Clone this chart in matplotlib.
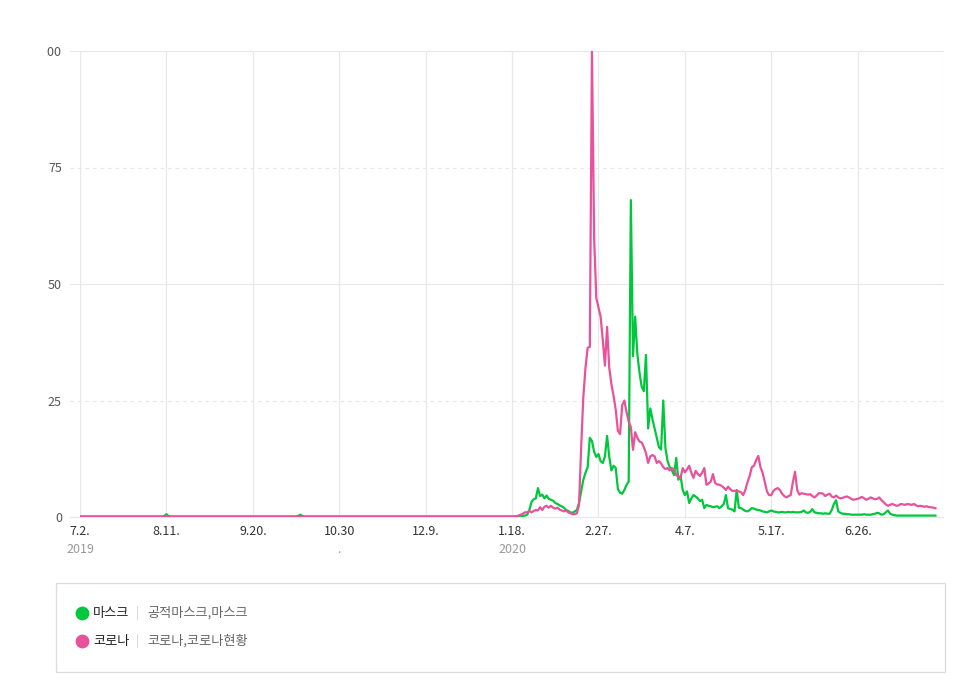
import numpy as np
import pandas as pd
import matplotlib
matplotlib.use("Agg")
import matplotlib.pyplot as plt
import matplotlib.dates as mdates
from matplotlib.patches import Rectangle
from matplotlib.transforms import Bbox, TransformedBbox

plt.rcParams['font.family'] = ['Noto Sans CJK KR', 'DejaVu Sans']

# daily search index, 2019-07-02 .. 2020-01-17 (flat period)
mask_early = [
    0.1, 0.1, 0.1, 0.1, 0.1, 0.1, 0.1, 0.1, 0.1, 0.1, 0.1, 0.1, 0.1, 0.1, 0.1, 0.1, 0.1, 0.1, 0.1, 0.1,
    0.1, 0.1, 0.1, 0.1, 0.1, 0.1, 0.1, 0.1, 0.1, 0.1, 0.1, 0.1, 0.1, 0.1, 0.1, 0.1, 0.1, 0.1, 0.1, 0.2,
    0.6, 0.2, 0.1, 0.1, 0.1, 0.1, 0.1, 0.1, 0.1, 0.1, 0.1, 0.1, 0.1, 0.1, 0.1, 0.1, 0.1, 0.1, 0.1, 0.1,
    0.1, 0.1, 0.1, 0.1, 0.1, 0.1, 0.1, 0.1, 0.1, 0.1, 0.1, 0.1, 0.1, 0.1, 0.1, 0.1, 0.1, 0.1, 0.1, 0.1,
    0.1, 0.1, 0.1, 0.1, 0.1, 0.1, 0.1, 0.1, 0.1, 0.1, 0.1, 0.1, 0.1, 0.1, 0.1, 0.1, 0.1, 0.1, 0.1, 0.1,
    0.1, 0.2, 0.5, 0.2, 0.1, 0.1, 0.1, 0.1, 0.1, 0.1, 0.1, 0.1, 0.1, 0.1, 0.1, 0.1, 0.1, 0.1, 0.1, 0.1,
    0.1, 0.1, 0.1, 0.1, 0.1, 0.1, 0.1, 0.1, 0.1, 0.1, 0.1, 0.1, 0.1, 0.1, 0.1, 0.1, 0.1, 0.1, 0.1, 0.1,
    0.1, 0.1, 0.1, 0.1, 0.1, 0.1, 0.1, 0.1, 0.1, 0.1, 0.1, 0.1, 0.1, 0.1, 0.1, 0.1, 0.1, 0.1, 0.1, 0.1,
    0.1, 0.1, 0.1, 0.1, 0.1, 0.1, 0.1, 0.1, 0.1, 0.1, 0.1, 0.1, 0.1, 0.1, 0.1, 0.1, 0.1, 0.1, 0.1, 0.1,
    0.1, 0.1, 0.1, 0.1, 0.1, 0.1, 0.1, 0.1, 0.1, 0.1, 0.1, 0.1, 0.1, 0.1, 0.1, 0.1, 0.1, 0.1, 0.1, 0.1,
]
corona_early = [
    0.1, 0.1, 0.1, 0.1, 0.1, 0.1, 0.1, 0.1, 0.1, 0.1, 0.1, 0.1, 0.1, 0.1, 0.1, 0.1, 0.1, 0.1, 0.1, 0.1,
    0.1, 0.1, 0.1, 0.1, 0.1, 0.1, 0.1, 0.1, 0.1, 0.1, 0.1, 0.1, 0.1, 0.1, 0.1, 0.1, 0.1, 0.1, 0.1, 0.1,
    0.1, 0.1, 0.1, 0.1, 0.1, 0.1, 0.1, 0.1, 0.1, 0.1, 0.1, 0.1, 0.1, 0.1, 0.1, 0.1, 0.1, 0.1, 0.1, 0.1,
    0.1, 0.1, 0.1, 0.1, 0.1, 0.1, 0.1, 0.1, 0.1, 0.1, 0.1, 0.1, 0.1, 0.1, 0.1, 0.1, 0.1, 0.1, 0.1, 0.1,
    0.1, 0.1, 0.1, 0.1, 0.1, 0.1, 0.1, 0.1, 0.1, 0.1, 0.1, 0.1, 0.1, 0.1, 0.1, 0.1, 0.1, 0.1, 0.1, 0.1,
    0.1, 0.1, 0.1, 0.1, 0.1, 0.1, 0.1, 0.1, 0.1, 0.1, 0.1, 0.1, 0.1, 0.1, 0.1, 0.1, 0.1, 0.1, 0.1, 0.1,
    0.1, 0.1, 0.1, 0.1, 0.1, 0.1, 0.1, 0.1, 0.1, 0.1, 0.1, 0.1, 0.1, 0.1, 0.1, 0.1, 0.1, 0.1, 0.1, 0.1,
    0.1, 0.1, 0.1, 0.1, 0.1, 0.1, 0.1, 0.1, 0.1, 0.1, 0.1, 0.1, 0.1, 0.1, 0.1, 0.1, 0.1, 0.1, 0.1, 0.1,
    0.1, 0.1, 0.1, 0.1, 0.1, 0.1, 0.1, 0.1, 0.1, 0.1, 0.1, 0.1, 0.1, 0.1, 0.1, 0.1, 0.1, 0.1, 0.1, 0.1,
    0.1, 0.1, 0.1, 0.1, 0.1, 0.1, 0.1, 0.1, 0.1, 0.1, 0.1, 0.1, 0.1, 0.1, 0.1, 0.1, 0.1, 0.1, 0.1, 0.1,
]

# daily search index, 2020-01-18 .. 2020-08-01
mask_late = [
    0.1, 0.1, 0.1, 0.1, 0.1, 0.2, 0.3, 0.5, 1.5, 3.2,
    3.8, 4.0, 6.2, 4.5, 4.8, 4.0, 4.6, 3.9, 3.7, 3.5,
    3.0, 2.8, 2.5, 2.3, 2.0, 1.5, 1.3, 1.0, 0.9, 1.2,
    1.5, 3.0, 5.5, 8.0, 9.5, 10.7, 17.0, 16.3, 14.0, 12.9,
    13.5, 12.0, 11.6, 13.0, 17.4, 12.9, 10.0, 11.0, 10.5, 6.0,
    5.2, 5.0, 5.8, 6.9, 7.6, 68.0, 34.5, 43.0, 35.0, 31.0,
    28.0, 27.0, 34.8, 19.0, 23.3, 21.0, 19.0, 17.0, 15.0, 14.5,
    25.0, 14.8, 12.0, 10.7, 10.0, 9.0, 12.7, 8.0, 8.8, 5.8,
    4.7, 5.5, 3.0, 4.0, 4.7, 4.4, 4.0, 3.4, 3.7, 1.9,
    2.6, 2.4, 2.3, 2.1, 2.2, 2.3, 1.9, 2.3, 2.8, 4.7,
    1.9, 1.7, 1.6, 1.2, 5.8, 2.0, 1.9, 1.6, 1.3, 1.2,
    1.5, 1.9, 1.8, 1.6, 1.5, 1.4, 1.2, 1.1, 1.0, 1.2,
    1.4, 1.2, 1.1, 1.0, 1.0, 1.1, 1.0, 1.0, 1.1, 1.0,
    1.1, 1.0, 1.0, 1.0, 1.1, 1.4, 1.0, 0.9, 1.1, 1.7,
    1.0, 0.9, 0.8, 0.8, 0.7, 0.8, 0.7, 0.7, 1.5, 2.8,
    3.6, 1.2, 0.9, 0.7, 0.7, 0.6, 0.6, 0.5, 0.5, 0.5,
    0.5, 0.5, 0.5, 0.6, 0.5, 0.5, 0.5, 0.6, 0.7, 0.9,
    0.8, 0.5, 0.6, 1.0, 1.4, 0.7, 0.5, 0.4, 0.3, 0.3,
    0.3, 0.3, 0.3, 0.3, 0.3, 0.3, 0.3, 0.3, 0.3, 0.3,
    0.3, 0.3, 0.3, 0.3, 0.3, 0.3, 0.3,
]
corona_late = [
    0.1, 0.1, 0.2, 0.3, 0.5, 0.7, 1.0, 1.0, 1.3, 1.0,
    1.3, 1.5, 1.4, 2.1, 1.5, 2.2, 2.4, 2.0, 2.4, 2.0,
    1.8, 2.0, 1.6, 1.4, 1.2, 1.4, 1.0, 0.8, 0.6, 0.6,
    0.8, 2.5, 15.0, 25.8, 32.0, 36.3, 36.5, 100.0, 60.0, 47.0,
    45.0, 43.0, 38.0, 32.5, 40.8, 32.0, 28.5, 26.0, 23.0, 18.5,
    17.8, 24.0, 25.0, 22.5, 20.5, 19.3, 14.4, 18.2, 17.0, 16.2,
    16.0, 15.0, 13.7, 11.6, 13.0, 13.3, 13.0, 11.6, 12.0, 11.5,
    10.7, 10.3, 10.5, 10.0, 10.5, 10.2, 9.0, 8.6, 8.4, 10.5,
    9.6, 10.2, 11.0, 9.5, 8.4, 9.9, 9.2, 8.8, 9.5, 10.5,
    6.9, 7.2, 7.6, 9.2, 7.3, 7.0, 6.9, 6.7, 6.3, 5.8,
    6.5, 6.0, 5.6, 5.6, 5.6, 5.5, 5.3, 4.7, 5.8, 7.5,
    8.8, 10.7, 11.0, 12.2, 13.1, 10.7, 9.5, 7.5, 5.5, 4.7,
    4.7, 5.6, 6.0, 6.2, 5.8, 5.0, 4.5, 4.2, 4.5, 4.7,
    7.5, 9.7, 5.8, 4.8, 5.1, 5.0, 4.9, 4.8, 4.9, 4.5,
    4.2, 4.6, 5.1, 5.1, 5.0, 4.5, 4.8, 5.0, 4.4, 4.2,
    4.6, 4.2, 4.0, 4.1, 4.3, 4.4, 4.2, 3.9, 3.7, 3.8,
    3.9, 4.1, 4.3, 4.0, 3.7, 3.9, 4.2, 4.0, 3.8, 3.9,
    4.2, 3.6, 3.2, 2.7, 2.4, 2.6, 2.8, 2.6, 2.4, 2.5,
    2.8, 2.7, 2.6, 2.8, 2.7, 2.6, 2.8, 2.5, 2.3, 2.4,
    2.3, 2.2, 2.3, 2.1, 2.1, 2.0, 1.9,
]

tick_dates = ['2019-07-02', '2019-08-11', '2019-09-20', '2019-10-30', '2019-12-09',
              '2020-01-18', '2020-02-27', '2020-04-07', '2020-05-17', '2020-06-26']
tick_labels = ['7.2.', '8.11.', '9.20.', '10.30', '12.9.', '1.18.', '2.27.', '4.7.', '5.17.', '6.26.']
sub_labels = {'2019-07-02': '2019', '2019-10-30': '.', '2020-01-18': '2020'}
y_ticks = [0, 25, 50, 75, 100]

series_names = ['마스크', '코로나']
series_keywords = ['공적마스크,마스크', '코로나,코로나현황']
series_colors = ['#00c73c', '#e9519a']

mask = mask_early + mask_late
corona = corona_early + corona_late
dates = pd.date_range('2019-07-02', periods=len(mask), freq='D')

W, H = 963, 684
fig = plt.figure(figsize=(W / 100, H / 100), dpi=100)

# overlay in pixel coords for the legend box
ov = fig.add_axes([0, 0, 1, 1])
ov.set_xlim(0, W)
ov.set_ylim(H, 0)
ov.axis('off')

ax = fig.add_axes([80 / W, 1 - 517 / H, 863 / W, 466 / H])
ax.patch.set_alpha(0)
x0 = mdates.date2num(pd.Timestamp('2019-07-02'))
ax.set_xlim(x0, x0 + 399.5)
ax.set_ylim(0, 100)
for s in ax.spines.values():
    s.set_visible(False)

grid_c = '#e8e8e8'
for y in y_ticks:
    ls = '-' if y % 50 == 0 else (0, (3, 3))
    ax.axhline(y, xmin=-0.012, xmax=1, color=grid_c, lw=0.9, ls=ls, clip_on=False, zorder=0)
tick_nums = [mdates.date2num(pd.Timestamp(d)) for d in tick_dates]
for t in tick_nums + [x0 + 399.5]:
    ax.axvline(t, color=grid_c, lw=0.9, zorder=0)

ax.plot(dates, mask, color=series_colors[0], lw=1.6, zorder=3)
ax.plot(dates, corona, color=series_colors[1], lw=1.6, zorder=4)

ax.set_yticks(y_ticks)
ax.set_yticklabels([str(v) for v in y_ticks])
ax.tick_params(axis='y', length=0, pad=13, labelsize=9, labelcolor='#555555')
# the top label is cut off at the left edge in the original
clip = TransformedBbox(Bbox([[47 / W, 0], [1, 1]]), fig.transFigure)
for lab in ax.get_yticklabels():
    lab.set_clip_box(clip)
    lab.set_clip_on(True)

ax.set_xticks(tick_nums)
ax.set_xticklabels(tick_labels)
ax.tick_params(axis='x', length=0, pad=6, labelsize=9, labelcolor='#333333')
for d, t in zip(tick_dates, tick_nums):
    if d in sub_labels:
        ax.text(t, -6.9, sub_labels[d], ha='center', va='center', fontsize=9,
                color='#999999', clip_on=False)

# legend box
ov.add_patch(Rectangle((56, 583), 889, 89, fill=False, ec='#dddddd', lw=1))
for i, (nm, kw, c) in enumerate(zip(series_names, series_keywords, series_colors)):
    yy = 613 + 28 * i
    ov.scatter([82], [yy], s=80, color=c, zorder=3)
    ov.text(93, yy, nm, va='center', ha='left', fontsize=9.5, color='#222222')
    ov.text(137, yy, '|', va='center', ha='center', fontsize=9, color='#cccccc')
    ov.text(147, yy, kw, va='center', ha='left', fontsize=9.5, color='#666666')

fig.savefig('out.png', dpi=100)
